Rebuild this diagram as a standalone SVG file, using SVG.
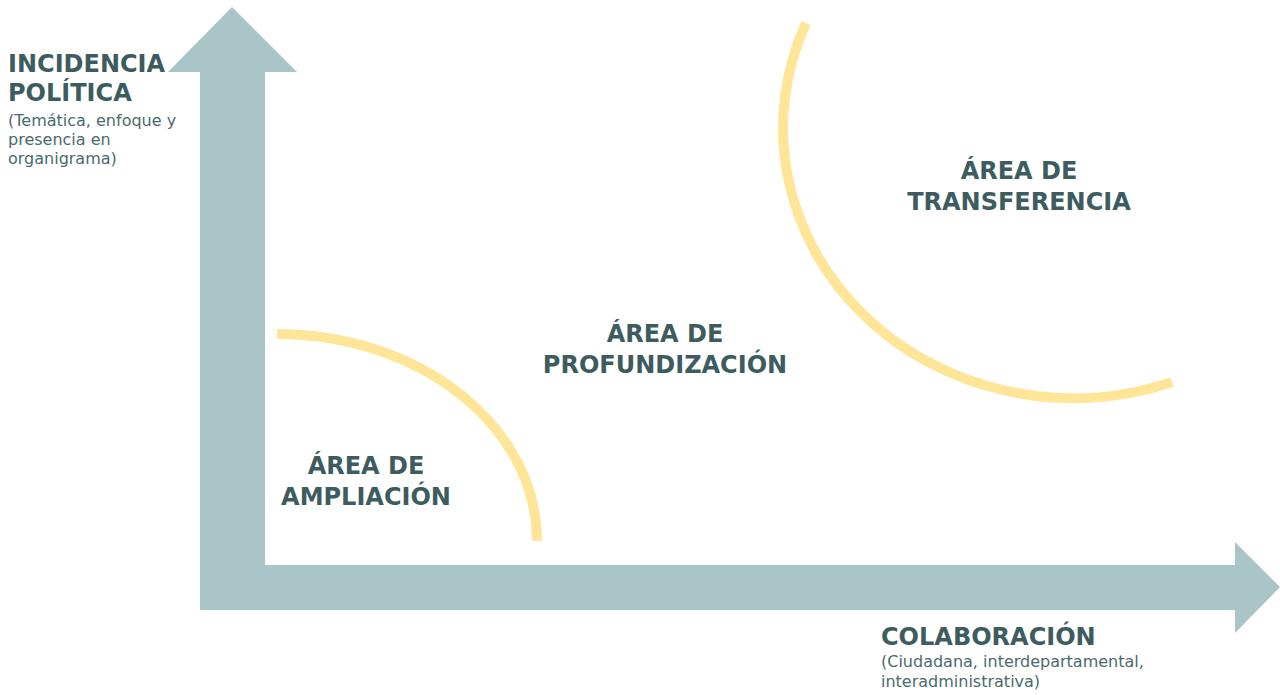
<svg xmlns="http://www.w3.org/2000/svg" width="1280" height="695" viewBox="0 0 1280 695">
<style>
.axis{fill:#a9c5c8}
.arc{fill:none;stroke:#fee598;stroke-width:10}
.t{font-family:"DejaVu Sans","Liberation Sans",sans-serif;font-weight:bold;font-size:24px;fill:#3d5c60}
.s{font-family:"DejaVu Sans","Liberation Sans",sans-serif;font-size:16px;fill:#4a6a6d}
</style>
<rect width="1280" height="695" fill="#ffffff"/>
<g id="axes">
<path class="axis" d="M200,610 L200,72 L168,72 L232,7 L297,72 L265,72 L265,565 L1235,565 L1235,542 L1280,587 L1235,633 L1235,610 Z"/>
</g>
<g id="connectors">
<path class="arc" d="M277,334 A260,207 0 0 1 537,541"/>
<path class="arc" d="M806,23 A290,270 0 0 0 1172,382"/>
</g>
<g id="y-label">
<text class="t" x="8" y="72">INCIDENCIA</text>
<text class="t" x="8" y="101">POLÍTICA</text>
<text class="s" x="8" y="126">(Temática, enfoque y</text>
<text class="s" x="8" y="145">presencia en</text>
<text class="s" x="8" y="164">organigrama)</text>
</g>
<g id="x-label">
<text class="t" x="881" y="645">COLABORACIÓN</text>
<text class="s" x="881" y="667">(Ciudadana, interdepartamental,</text>
<text class="s" x="881" y="687">interadministrativa)</text>
</g>
<g id="area-ampliacion">
<text class="t" x="366" y="474" text-anchor="middle">ÁREA DE</text>
<text class="t" x="366" y="505" text-anchor="middle">AMPLIACIÓN</text>
</g>
<g id="area-profundizacion">
<text class="t" x="665" y="342" text-anchor="middle">ÁREA DE</text>
<text class="t" x="665" y="373" text-anchor="middle">PROFUNDIZACIÓN</text>
</g>
<g id="area-transferencia">
<text class="t" x="1019" y="179" text-anchor="middle">ÁREA DE</text>
<text class="t" x="1019" y="210" text-anchor="middle">TRANSFERENCIA</text>
</g>
</svg>
